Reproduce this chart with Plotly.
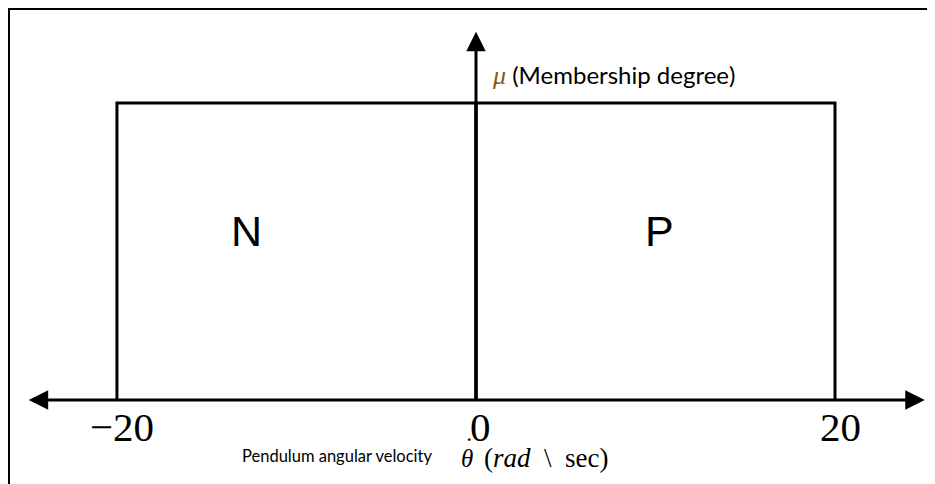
import plotly.graph_objects as go

# Data
tick_values = [-20, 0, 20]
tick_labels = ["\u221220", "0", "20"]
set_names = ["N", "P"]
set_low = [-20, 0]
set_high = [0, 20]
set_mu = [1, 1]
axis_min, axis_max = -25, 25
mu_axis_top = 1.24

W, H = 927, 476  # page body has an 8px margin


def px(x):  # window pixel -> paper x
    return (x - 8) / W


def py(y):  # window pixel -> paper y
    return 1 - (y - 8) / H


fig = go.Figure()

# rectangular membership functions
for name, lo, hi, mu in zip(set_names, set_low, set_high, set_mu):
    fig.add_trace(go.Scatter(
        x=[lo, lo, hi, hi], y=[0, mu, mu, 0], mode="lines",
        line=dict(color="black", width=3), showlegend=False, hoverinfo="skip"))
    fig.add_annotation(x=lo + (hi - lo) * (0.36 if lo < 0 else 0.51), y=0.57 * mu, text=name,
                       showarrow=False, font=dict(family="Liberation Sans", size=43, color="black"))

# horizontal axis with arrows at both ends
fig.add_annotation(x=axis_max, y=0, ax=axis_min, ay=0, axref="x", ayref="y",
                   xref="x", yref="y", text="", showarrow=True, arrowhead=2,
                   arrowside="end+start", arrowwidth=3, arrowsize=1.3, arrowcolor="black")
# vertical axis with arrow
fig.add_annotation(x=0, y=mu_axis_top, ax=0, ay=0, axref="x", ayref="y",
                   xref="x", yref="y", text="", showarrow=True, arrowhead=2,
                   arrowwidth=3, arrowsize=1.3, arrowcolor="black")

# tick labels
for v, lab in zip(tick_values, tick_labels):
    fig.add_annotation(x=v, y=0, yshift=-27, xshift=5, text=lab, showarrow=False,
                       xanchor="center", yanchor="middle",
                       font=dict(family="Liberation Serif", size=41, color="black"))

# y label
fig.add_annotation(x=0, y=mu_axis_top, xref="x", yref="y", yshift=-43, xshift=14,
                   xanchor="left", yanchor="middle",
                   text="<span style='font-family:Liberation Serif;font-size:26px;color:#8a5a10'><i>\u03bc</i></span> (Membership degree)",
                   showarrow=False, font=dict(family="Lato", size=24, color="black"))

# x title (sans part, theta with dot, serif unit part)
fig.add_annotation(x=px(434), y=py(456), xref="paper", yref="paper",
                   xanchor="right", yanchor="middle", showarrow=False,
                   text="Pendulum angular velocity",
                   font=dict(family="Lato", size=16.5, color="black"))
fig.add_annotation(x=px(467), y=py(458), xref="paper", yref="paper",
                   xanchor="center", yanchor="middle", showarrow=False,
                   text="<i>\u03b8</i>", font=dict(family="Liberation Serif", size=25, color="black"))
fig.add_annotation(x=px(469), y=py(446), xref="paper", yref="paper",
                   xanchor="center", yanchor="middle", showarrow=False,
                   text="\u02d9", font=dict(family="Liberation Serif", size=25, color="black"))
fig.add_annotation(x=px(482), y=py(458), xref="paper", yref="paper",
                   xanchor="left", yanchor="middle", showarrow=False,
                   text="(<i>rad</i>\u2002\\\u2002sec)",
                   font=dict(family="Liberation Serif", size=27, color="black"))

# outer frame
fig.add_shape(type="rect", xref="paper", yref="paper", x0=1 / W, x1=1.02, y0=-0.02, y1=1 - 1 / H,
              line=dict(color="black", width=2))

fig.update_xaxes(range=[-26.07, 25.57], visible=False)
fig.update_yaxes(range=[-0.2828, 1.3199], visible=False)
fig.update_layout(width=W, height=H, margin=dict(l=0, r=0, t=0, b=0),
                  plot_bgcolor="white", paper_bgcolor="white")

fig.write_html("out.html")
